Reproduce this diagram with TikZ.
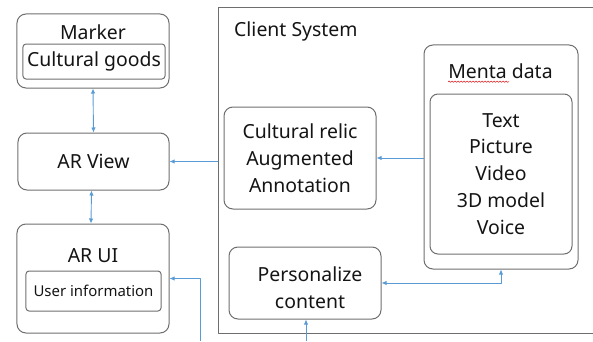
\documentclass[tikz,border=0pt]{standalone}
\usepackage{fontspec}
\setmainfont{Noto Sans}
\usetikzlibrary{arrows.meta,decorations.pathmorphing}
\definecolor{boxgray}{HTML}{6E6E6E}
\definecolor{linkblue}{HTML}{5B9BD5}
\definecolor{inkblack}{HTML}{141414}
\definecolor{spellred}{HTML}{E03030}

\begin{document}
\begin{tikzpicture}[x=1bp,y=1bp,>={Latex[length=5bp,width=4.5bp]},line join=bevel,
  box/.style={draw=boxgray,line width=1bp,rounded corners=9bp,inner sep=0pt,text=inkblack,align=center,font=\fontsize{19.5}{27}\selectfont},
  inbox/.style={box,rounded corners=3bp},
  lbl/.style={inner sep=0pt,text=inkblack,align=center,font=\fontsize{19.5}{27}\selectfont},
  link/.style={draw=linkblue,line width=0.9bp}]
\useasboundingbox (0,0) rectangle (593,341);
%% client side frame, runs off the right edge
\node (client) at (414,170.5) [draw=boxgray,line width=1bp,minimum width=392bp,minimum height=325bp,inner sep=0pt] {};
\node (client_lbl) at (234,310) [lbl,anchor=west] {Client System};
%% left column
\node (marker) at (93,290) [box,minimum width=152bp,minimum height=74bp] {};
\node (marker_lbl) at (93,309) [lbl] {Marker};
\node (goods) at (94,279.5) [inbox,minimum width=142bp,minimum height=35bp] {Cultural goods};
\node (arview) at (93.5,179.5) [box,minimum width=151bp,minimum height=57bp] {AR View};
\node (arui) at (93,62.5) [box,minimum width=152bp,minimum height=109bp] {};
\node (arui_lbl) at (93,85.5) [lbl] {AR UI};
\node (userinfo) at (93.5,50) [inbox,minimum width=135bp,minimum height=40bp,font=\fontsize{15}{18}\selectfont] {User information};
%% inside the client frame
\node (relic) at (300,183) [box,minimum width=152bp,minimum height=102bp] {Cultural relic\\Augmented\\Annotation};
\node (menta) at (501,184) [box,minimum width=154bp,minimum height=224bp] {};
\node (menta_lbl) at (500.5,270) [lbl] {Menta data};
\node (media) at (501,167) [box,rounded corners=8bp,minimum width=142bp,minimum height=160bp] {Text\\Picture\\Video\\3D model\\Voice};
\node (pers) at (305,58) [box,minimum width=152bp,minimum height=72bp] {};
\node (pers_lbl) at (310,53) [lbl] {Personalize\\content};
\draw [spellred,line width=0.6bp,decorate,decoration={snake,amplitude=0.7bp,segment length=3bp}] ([yshift=-3bp]menta_lbl.south west) -- ++(61bp,0);
%% connectors
\coordinate (feed_pers) at (306,0);
\coordinate (feed_ui) at (200,0);
\draw [link,<->] (marker.south) -- (arview.north);
\draw [link,<->] ([xshift=-2bp]arview.south) -- ([xshift=-2bp]arui.north);
\draw [link,->] (client.west |- arview) -- (arview.east);
\draw [link,->] (menta.west |- relic) -- (relic.east);
\draw [link,<->] (pers.east) -| (menta.south);
\draw [link,->] (feed_pers) -- (pers.south -| feed_pers);
\draw [link,->] (feed_ui) |- (arui.east);
%
\end{tikzpicture}
\end{document}
